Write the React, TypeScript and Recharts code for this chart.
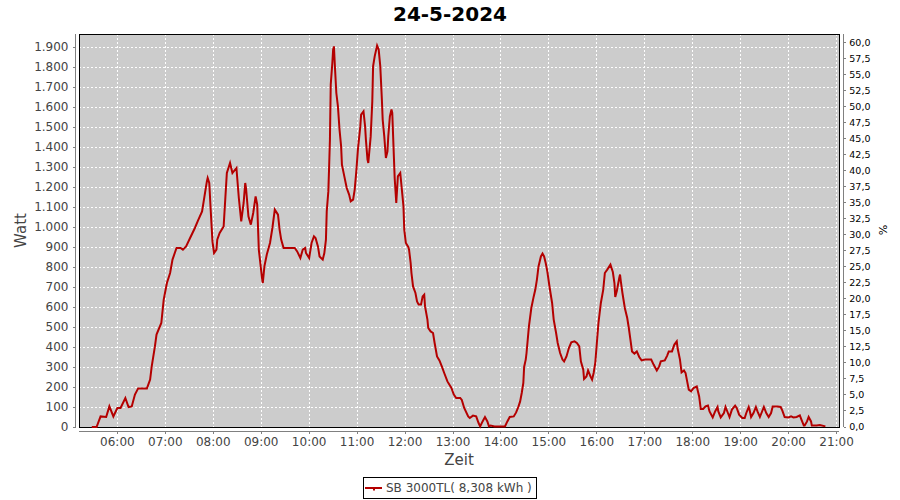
import React from 'react';
import { LineChart, Line, XAxis, YAxis, CartesianGrid, ReferenceArea, Legend, Label } from 'recharts';

// ---- data ----
const morningTimes = ['05:28','05:34','05:39','05:46','05:50','05:55','06:00','06:04','06:10','06:14','06:18','06:22','06:26','06:37','06:41','06:43','06:47','06:49','06:55','06:58','07:02','07:06','07:09','07:14','07:19','07:22','07:26','07:31','07:37','07:41','07:46','07:49','07:52','07:53','07:55','07:57','07:59','08:01','08:04','08:05','08:08','08:13','08:15','08:17','08:21','08:24','08:29','08:32','08:35','08:38','08:40','08:41','08:44','08:47','08:50','08:53','08:55','08:57','09:01','09:02','09:04','09:07','09:11','09:14','09:17','09:21','09:23'];
const morningWatts = [0,0,53,50,103,53,95,95,145,100,103,162,193,193,237,303,403,462,520,637,720,770,837,895,895,887,903,945,995,1033,1078,1153,1228,1245,1220,1070,928,870,887,937,970,1003,1137,1270,1320,1270,1295,1145,1028,1120,1220,1195,1053,1012,1070,1153,1112,887,745,720,803,862,920,995,1087,1062,987];

const noonTimes = ['09:25','09:28','09:42','09:45','09:49','09:52','09:55','09:56','10:00','10:03','10:06','10:08','10:11','10:13','10:17','10:19','10:21','10:22','10:24','10:25','10:26','10:27','10:29','10:30','10:31','10:32','10:34','10:36','10:38','10:40','10:41','10:44','10:47','10:50','10:52','10:55','10:57','10:59','11:01','11:04','11:05','11:08','11:10','11:11','11:13','11:14','11:17','11:19','11:20','11:22','11:25','11:27','11:29','11:31','11:32','11:34','11:36','11:38','11:39','11:41','11:43','11:44','11:46','11:47','11:49','11:51','11:54','11:56','11:58','11:59','12:01','12:04','12:05','12:07','12:08','12:10','12:13','12:15','12:17','12:20','12:22','12:24','12:25','12:28','12:29','12:32','12:35','12:37','12:40','12:43','12:46','12:49','12:53','12:58','13:01','13:04'];
const noonWatts = [937,895,895,878,845,887,895,870,845,920,953,945,903,853,837,870,937,1078,1178,1303,1437,1712,1820,1887,1903,1820,1670,1603,1487,1403,1312,1253,1195,1162,1128,1137,1187,1278,1387,1503,1562,1578,1503,1437,1337,1320,1453,1628,1803,1853,1907,1887,1803,1637,1537,1453,1345,1378,1453,1553,1587,1570,1353,1245,1120,1253,1270,1187,1103,987,920,900,887,820,770,703,670,628,612,612,653,662,603,537,495,478,470,420,353,333,303,270,228,195,162,145];

const afternoonTimes = ['13:09','13:11','13:14','13:19','13:21','13:25','13:29','13:32','13:34','13:37','13:40','13:43','13:45','13:47','13:52','14:05','14:08','14:11','14:16','14:19','14:22','14:24','14:26','14:28','14:29','14:31','14:32','14:35','14:38','14:41','14:43','14:45','14:47','14:50','14:52','14:54','14:56','14:58','15:01','15:04','15:06','15:09','15:11','15:14','15:17','15:19','15:22','15:25','15:28','15:32','15:35','15:38','15:40','15:43','15:44','15:47','15:49','15:52','15:54','15:56','15:58','16:00','16:02','16:05','16:08','16:10','16:13','16:17','16:20','16:22','16:23','16:25','16:28','16:29','16:30','16:32','16:35','16:38','16:40','16:42','16:44','16:47','16:50','16:53','16:56','17:00'];
const afternoonWatts = [145,135,95,53,45,57,53,20,3,28,50,28,3,7,3,3,28,50,53,73,103,128,170,220,300,337,370,503,595,653,687,737,803,853,867,853,820,778,695,620,537,470,420,370,337,328,353,395,423,428,420,403,328,287,240,253,283,253,237,270,320,420,520,620,687,770,787,812,775,720,650,680,745,762,728,670,595,545,495,437,378,367,378,350,333,337];

const eveningTimes = ['17:08','17:11','17:15','17:18','17:20','17:25','17:28','17:30','17:34','17:37','17:40','17:41','17:44','17:46','17:49','17:51','17:53','17:55','17:58','18:01','18:05','18:08','18:10','18:13','18:16','18:19','18:21','18:25','18:28','18:31','18:32','18:35','18:39','18:41','18:44','18:46','18:49','18:53','18:55','18:58','19:02','19:05','19:07','19:10','19:11','19:13','19:16','19:19','19:21','19:24','19:26','19:29','19:32','19:35','19:38','19:40','19:46','19:50','19:52','19:55','20:00','20:03','20:06','20:10','20:14','20:16','20:19','20:20','20:23','20:25','20:28','20:29','20:35','20:39','20:46'];
const eveningWatts = [337,312,283,303,328,333,357,378,378,412,428,395,337,273,283,270,228,187,178,195,203,153,90,90,103,107,78,48,78,100,78,48,70,100,70,50,87,107,95,62,45,45,70,100,87,50,70,100,78,50,70,100,70,50,70,103,103,100,83,50,48,53,48,50,58,37,7,7,28,50,28,7,7,10,3];

const hourTicks = ['06:00','07:00','08:00','09:00','10:00','11:00','12:00','13:00','14:00','15:00','16:00','17:00','18:00','19:00','20:00','21:00'];
const wattTicks = [0,100,200,300,400,500,600,700,800,900,1000,1100,1200,1300,1400,1500,1600,1700,1800,1900];
const percentTicks = [0,2.5,5,7.5,10,12.5,15,17.5,20,22.5,25,27.5,30,32.5,35,37.5,40,42.5,45,47.5,50,52.5,55,57.5,60];
const chartTitle = '24-5-2024';
const seriesName = 'SB 3000TL( 8,308 kWh )';
const xLabel = 'Zeit';
const yLabel = 'Watt';
const y2Label = '%';
const xStart = '05:12';
const xEnd = '21:03';
const wattMax = 1965;
const percentMax = 61.4;

// ---- helpers ----
const toMin = (s: string) => {
  const [h, m] = s.split(':').map(Number);
  return h * 60 + m;
};
const times = [...morningTimes, ...noonTimes, ...afternoonTimes, ...eveningTimes];
const watts = [...morningWatts, ...noonWatts, ...afternoonWatts, ...eveningWatts];
const data = times.map((t, i) => ({ t: toMin(t), w: watts[i] }));
const xDomain = [toMin(xStart), toMin(xEnd)];

const FONT = '"DejaVu Sans", Verdana, sans-serif';
const RED = '#B40000';
const AXIS_GRAY = '#808080';

const fmtWatt = (v: number) =>
  v >= 1000 ? `${Math.floor(v / 1000)}.${String(v % 1000).padStart(3, '0')}` : String(v);
const fmtPct = (v: number) => v.toFixed(1).replace('.', ',');
const fmtHour = (v: number) => hourTicks.find((h) => toMin(h) === v) ?? '';

const LeftTick = (p: any) => {
  const { x, y, payload } = p;
  return (
    <g>
      <line x1={x - 3.5} x2={x - 6} y1={y} y2={y} stroke={AXIS_GRAY} shapeRendering="crispEdges" />
      <text x={x - 10.5} y={y + 4.4} textAnchor="end" fontSize={12} fill="#444" fontFamily={FONT}>
        {fmtWatt(payload.value)}
      </text>
    </g>
  );
};

const RightTick = (p: any) => {
  const { x, y, payload } = p;
  return (
    <g>
      <line x1={x + 4.5} x2={x + 7} y1={y} y2={y} stroke={AXIS_GRAY} shapeRendering="crispEdges" />
      <text x={x + 10.3} y={y + 2.6} textAnchor="start" fontSize={9.5} fill="#000" fontFamily={FONT}>
        {fmtPct(payload.value)}
      </text>
    </g>
  );
};

const BottomTick = (p: any) => {
  const { x, y, payload } = p;
  return (
    <g>
      <line x1={x} x2={x} y1={y + 4} y2={y + 6.5} stroke={AXIS_GRAY} shapeRendering="crispEdges" />
      <text x={x} y={y + 19} textAnchor="middle" fontSize={12} fill="#444" fontFamily={FONT}>
        {fmtHour(payload.value)}
      </text>
    </g>
  );
};

const WattLabel = (p: any) => {
  const vb = p.viewBox;
  const cx = vb.x + 26;
  const cy = vb.y + vb.height / 2;
  return (
    <text x={cx} y={cy} transform={`rotate(-90 ${cx} ${cy})`} textAnchor="middle" fontSize={15} fill="#444" fontFamily={FONT}>
      {yLabel}
    </text>
  );
};

const PctLabel = (p: any) => {
  const vb = p.viewBox;
  const cx = vb.x + 39.5;
  const cy = vb.y + vb.height / 2 - 0.5;
  return (
    <text x={cx} y={cy} transform={`rotate(90 ${cx} ${cy})`} textAnchor="middle" fontSize={11} fill="#000" fontFamily={FONT}>
      {y2Label}
    </text>
  );
};

const ZeitLabel = (p: any) => {
  const vb = p.viewBox;
  return (
    <text x={vb.x + vb.width / 2} y={vb.y + 38} textAnchor="middle" fontSize={15} fill="#444" fontFamily={FONT}>
      {xLabel}
    </text>
  );
};

const renderLegend = () => (
  <div
    style={{
      boxSizing: 'border-box',
      width: 174,
      height: 22,
      border: '1px solid #000',
      background: '#fff',
      display: 'flex',
      alignItems: 'center',
      fontFamily: FONT,
      fontSize: 12,
      color: '#444',
      whiteSpace: 'nowrap',
      lineHeight: '14px',
    }}
  >
    <svg width={20} height={12} style={{ display: 'block' }}>
      <line x1={1} x2={18} y1={6} y2={6} stroke={RED} strokeWidth={2} />
      <rect x={9} y={6} width={2} height={2.5} fill={RED} />
    </svg>
    <span style={{ marginLeft: 2 }}>{seriesName}</span>
  </div>
);

export default function App() {
  return (
    <div style={{ position: 'absolute', left: 0, top: 0, width: 900, height: 500, background: '#fff' }}>
      <svg width={900} height={30} style={{ position: 'absolute', left: 0, top: 0 }}>
        <text x={450} y={20.5} textAnchor="middle" fontSize={20} fontWeight="bold" fill="#000" fontFamily={FONT}>
          {chartTitle}
        </text>
      </svg>
      <div style={{ position: 'absolute', left: 0, top: 0 }}>
        <LineChart width={900} height={500} data={data} margin={{ top: 34, right: 0, bottom: 0, left: 0 }}>
          <CartesianGrid stroke="#FFFFFF" strokeDasharray="2 2" fill="#CCCCCC" fillOpacity={1} shapeRendering="crispEdges" />
          <XAxis
            dataKey="t"
            type="number"
            domain={xDomain}
            ticks={hourTicks.map(toMin)}
            interval={0}
            height={73}
            tickSize={0}
            tickMargin={0}
            tickLine={false}
            tick={(p: any) => <BottomTick {...p} />}
            axisLine={{ stroke: AXIS_GRAY, transform: 'translate(0,4)', shapeRendering: 'crispEdges' }}
          >
            <Label content={ZeitLabel} />
          </XAxis>
          <YAxis
            type="number"
            domain={[0, wattMax]}
            ticks={wattTicks}
            interval={0}
            width={79}
            tickSize={0}
            tickMargin={0}
            tickLine={false}
            tick={(p: any) => <LeftTick {...p} />}
            axisLine={{ stroke: AXIS_GRAY, transform: 'translate(-3.5,0)', shapeRendering: 'crispEdges' }}
          >
            <Label content={WattLabel} />
          </YAxis>
          <YAxis
            yAxisId="p"
            orientation="right"
            type="number"
            domain={[0, percentMax]}
            allowDataOverflow
            ticks={percentTicks}
            interval={0}
            width={61}
            tickSize={0}
            tickMargin={0}
            tickLine={false}
            tick={(p: any) => <RightTick {...p} />}
            axisLine={{ stroke: AXIS_GRAY, transform: 'translate(4.5,0)', shapeRendering: 'crispEdges' }}
          >
            <Label content={PctLabel} />
          </YAxis>
          <ReferenceArea
            x1={xDomain[0]}
            x2={xDomain[1]}
            y1={0}
            y2={wattMax}
            fill="none"
            fillOpacity={0}
            stroke="#000"
            strokeWidth={1}
            shapeRendering="crispEdges"
            ifOverflow="visible"
          />
          <Line
            type="linear"
            dataKey="w"
            name={seriesName}
            stroke={RED}
            strokeWidth={2}
            dot={false}
            activeDot={false}
            isAnimationActive={false}
          />
          <Legend
            layout="horizontal"
            verticalAlign="middle"
            align="center"
            content={renderLegend}
            wrapperStyle={{ left: 363, top: 477, width: 174, height: 22 }}
          />
        </LineChart>
      </div>
    </div>
  );
}
